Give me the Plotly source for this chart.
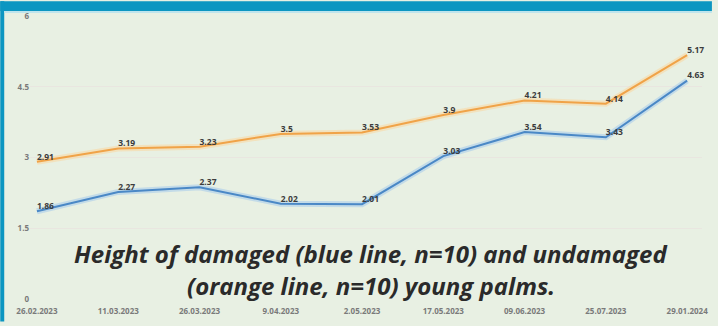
import plotly.graph_objects as go

dates = ["26.02.2023", "11.03.2023", "26.03.2023", "9.04.2023", "2.05.2023",
         "17.05.2023", "09.06.2023", "25.07.2023", "29.01.2024"]
damaged = [1.86, 2.27, 2.37, 2.02, 2.01, 3.03, 3.54, 3.43, 4.63]
undamaged = [2.91, 3.19, 3.23, 3.5, 3.53, 3.9, 4.21, 4.14, 5.17]
y_ticks = [0, 1.5, 3, 4.5, 6]
title_lines = ["Height of damaged (blue line, n=10) and undamaged",
               "(orange line, n=10) young palms."]

W, H = 718, 326
L, R, T, B = 30, 10, 15, 23
pw, ph = W - L - R, H - T - B

def px_x(p):
    return (p - L) / pw

def px_y(p):
    return 1 - (p - T) / ph

fig = go.Figure()

xs = list(range(len(dates)))
for vals, col, glow in [(undamaged, "#f0a348", "rgba(250,215,160,0.55)"),
                        (damaged, "#4a88c6", "rgba(170,205,235,0.6)")]:
    fig.add_trace(go.Scatter(x=xs, y=vals, mode="lines",
                             line=dict(color=glow, width=6),
                             hoverinfo="skip", showlegend=False))
    fig.add_trace(go.Scatter(x=xs, y=vals, mode="lines+text",
                             line=dict(color=col, width=2),
                             text=[f"{v:g}" for v in vals],
                             textposition="top right", cliponaxis=False,
                             textfont=dict(family="Open Sans", size=8.5, color="#3c3c3c",
                                           weight="bold"),
                             hoverinfo="skip", showlegend=False))

teal = "#0c96c1"
fig.update_layout(
    width=W, height=H,
    margin=dict(l=L, r=R, t=T, b=B),
    paper_bgcolor="#e8f0e3",
    plot_bgcolor="rgba(0,0,0,0)",
    showlegend=False,
    xaxis=dict(range=[-7 / 82, 8 + 15 / 82], tickmode="array", tickvals=xs,
               ticktext=dates, showgrid=False, zeroline=False, showline=False,
               tickfont=dict(family="Open Sans", size=8, color="#7a7a7a", weight="bold"),
               ticklen=0, ticklabelstandoff=6),
    yaxis=dict(range=[0, 6], tickmode="array", tickvals=y_ticks,
               ticktext=[f"{v:g}" for v in y_ticks],
               showgrid=True, gridcolor="#e9e6e0", gridwidth=1, zeroline=False,
               tickfont=dict(family="Open Sans", size=8, color="#7a7a7a", weight="bold"),
               ticklen=0),
    shapes=[
        dict(type="rect", xref="paper", yref="paper", layer="below",
             x0=px_x(0), x1=px_x(W), y0=px_y(10), y1=px_y(0),
             fillcolor=teal, line=dict(width=0)),
        dict(type="rect", xref="paper", yref="paper", layer="below",
             x0=px_x(0), x1=px_x(4), y0=px_y(H), y1=px_y(0),
             fillcolor=teal, line=dict(width=0)),
        dict(type="line", xref="paper", yref="paper", layer="below",
             x0=px_x(4), x1=px_x(W), y0=px_y(11), y1=px_y(11),
             line=dict(color="#bfe4ec", width=2)),
    ],
    annotations=[
        dict(text=t, xref="paper", yref="paper",
             x=px_x(374), y=px_y(yc), xanchor="center", yanchor="middle",
             showarrow=False, align="center",
             font=dict(family="Open Sans", size=24, color="#2a2a2a",
                       weight="bold", style="italic"))
        for t, yc in zip(title_lines, [257, 289])
    ],
)

fig.write_html("out.html")
